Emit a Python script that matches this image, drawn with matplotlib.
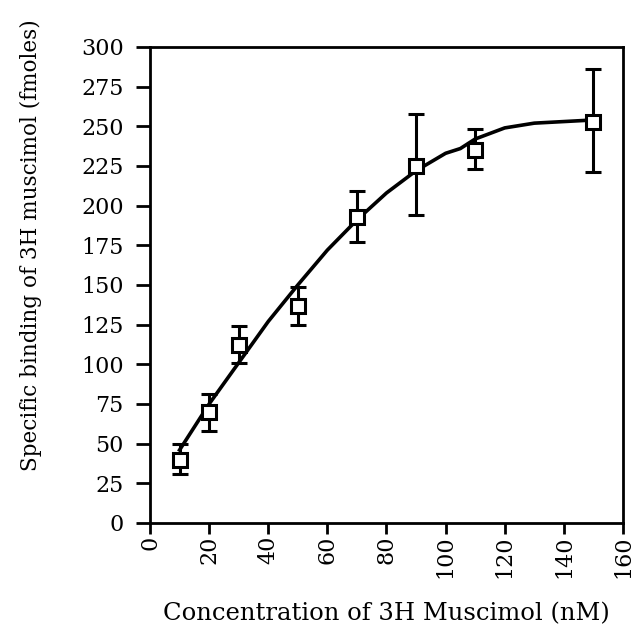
from matplotlib import pyplot as plt

# dados
conc = [10, 20, 30, 50, 70, 90, 110, 150]
binding = [40, 70, 112, 137, 193, 225, 235, 253]
err_lo = [9, 12, 11, 12, 16, 31, 12, 32]
err_hi = [10, 11, 12, 12, 16, 33, 13, 33]

# curva ajustada (suave)
curva_x = [10, 20, 30, 40, 50, 60, 70, 80, 90, 100, 105, 110, 120, 130, 140, 150]
curva_y = [46, 75, 101, 127, 150, 172, 191, 208, 222, 233, 236, 242, 249, 252, 253, 254]

plt.rcParams['font.family'] = ['DejaVu Serif']

fig = plt.figure(figsize=(6.34, 6.41), dpi=100)
ax = fig.add_axes([0.2366, 0.1841, 0.746, 0.7426])

ax.plot(curva_x, curva_y, color='black', lw=2.6, zorder=2)
ax.errorbar(conc, binding, yerr=[err_lo, err_hi], fmt='none', ecolor='black',
            elinewidth=2.2, capsize=6, capthick=2.2, zorder=1)
ax.plot(conc, binding, 's', ms=10.5, mfc='white', mec='black', mew=2.2, zorder=3)

ax.set_xlim(0, 160)
ax.set_ylim(0, 300)
ax.set_xticks(range(0, 161, 20))
ax.set_yticks(range(0, 301, 25))
ax.tick_params(axis='y', direction='out', length=10, width=2, labelsize=16, pad=9)
ax.tick_params(axis='x', direction='out', length=8, width=2, labelsize=16, pad=1,
               labelrotation=90)
for s in ax.spines.values():
    s.set_linewidth(2)

ax.set_xlabel('Concentration of 3H Muscimol (nM)', fontsize=17.5, labelpad=17)
ax.set_ylabel('Specific binding of 3H muscimol (fmoles)', fontsize=15.5)
ax.yaxis.set_label_coords(-0.228, 0.584)

fig.savefig('out.png', dpi=100)
